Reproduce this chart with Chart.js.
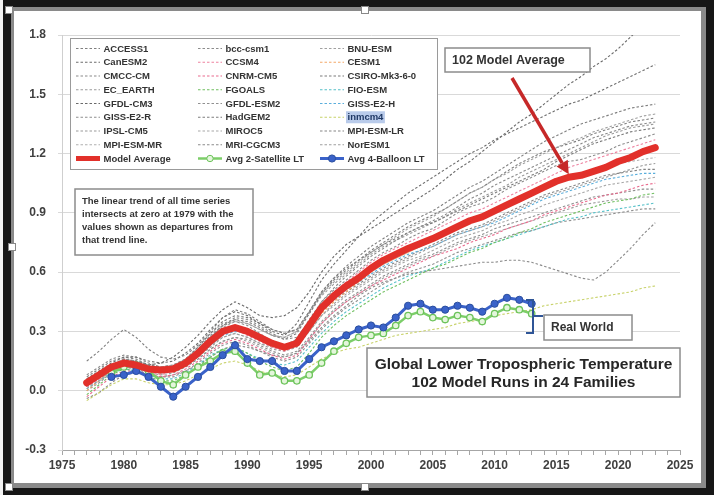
<!DOCTYPE html>
<html><head><meta charset="utf-8">
<script src="https://cdn.jsdelivr.net/npm/chart.js@4"></script>
<style>html,body{margin:0;padding:0;background:#fff;}#wrap{position:relative;width:714px;height:495px;}canvas{display:block;}</style>
</head><body><div id="wrap"><canvas id="c" width="714" height="495"></canvas></div>
<script>
// ---------- DATA ----------
const years = [1977,1978,1979,1980,1981,1982,1983,1984,1985,1986,1987,1988,1989,1990,1991,1992,1993,1994,1995,1996,1997,1998,1999,2000,2001,2002,2003,2004,2005,2006,2007,2008,2009,2010,2011,2012,2013,2014,2015,2016,2017,2018,2019,2020,2021,2022,2023];
const obsYears = [1979,1980,1981,1982,1983,1984,1985,1986,1987,1988,1989,1990,1991,1992,1993,1994,1995,1996,1997,1998,1999,2000,2001,2002,2003,2004,2005,2006,2007,2008,2009,2010,2011,2012,2013];
const xTicks = [1975,1980,1985,1990,1995,2000,2005,2010,2015,2020,2025];
const yTicks = [-0.3,0.0,0.3,0.6,0.9,1.2,1.5,1.8];

const modelNames = ["ACCESS1","bcc-csm1","BNU-ESM","CanESM2","CCSM4","CESM1","CMCC-CM","CNRM-CM5","CSIRO-Mk3-6-0","EC_EARTH","FGOALS","FIO-ESM","GFDL-CM3","GFDL-ESM2","GISS-E2-H","GISS-E2-R","HadGEM2","inmcm4","IPSL-CM5","MIROC5","MPI-ESM-LR","MPI-ESM-MR","MRI-CGCM3","NorESM1"];

const ACCESS1 = [0.15,0.20,0.26, 0.31,0.27,0.21,0.17,0.16,0.18,0.23,0.30,0.37,0.41, 0.39,0.35,0.31,0.29,0.31,0.40,0.50,0.57,0.63,0.68, 0.73,0.77,0.81,0.85,0.88,0.91,0.95,0.99,1.03,1.06, 1.10,1.14,1.18,1.22,1.26,1.29,1.32,1.35,1.37,1.39, 1.41,1.43,1.44,1.45];
const bcc_csm1 = [0.06,0.09,0.13, 0.16,0.15,0.12,0.10,0.11,0.15,0.21,0.28,0.33,0.35, 0.33,0.29,0.25,0.23,0.26,0.36,0.45,0.51,0.56,0.61, 0.66,0.70,0.73,0.77,0.80,0.82,0.86,0.90,0.93,0.95, 0.98,1.02,1.05,1.08,1.11,1.14,1.16,1.17,1.19,1.21, 1.24,1.26,1.28,1.30];
const BNU_ESM = [0.01,0.05,0.10, 0.13,0.13,0.12,0.12,0.13,0.16,0.21,0.27,0.32,0.35, 0.34,0.31,0.28,0.27,0.30,0.40,0.49,0.55,0.60,0.65, 0.70,0.74,0.78,0.82,0.85,0.88,0.92,0.96,1.00,1.03, 1.07,1.10,1.14,1.17,1.20,1.23,1.26,1.28,1.31,1.33, 1.35,1.37,1.39,1.40];
const CanESM2 = [0.06,0.10,0.14, 0.17,0.17,0.15,0.14,0.15,0.19,0.24,0.31,0.37,0.40, 0.38,0.34,0.30,0.28,0.34,0.45,0.56,0.64,0.71,0.78, 0.85,0.90,0.95,1.00,1.04,1.08,1.12,1.16,1.20,1.23, 1.27,1.30,1.33,1.36,1.39,1.42,1.45,1.47,1.50,1.53, 1.56,1.59,1.62,1.65];
const CCSM4 = [0.02,0.06,0.11, 0.14,0.12,0.09,0.08,0.10,0.14,0.20,0.26,0.30,0.31, 0.28,0.25,0.22,0.20,0.23,0.33,0.43,0.50,0.55,0.60, 0.65,0.69,0.72,0.75,0.78,0.81,0.84,0.87,0.90,0.92, 0.95,0.98,1.01,1.04,1.07,1.10,1.13,1.15,1.17,1.19, 1.21,1.23,1.25,1.27];
const CESM1 = [0.00,0.05,0.10, 0.13,0.12,0.10,0.09,0.10,0.13,0.18,0.24,0.29,0.31, 0.29,0.26,0.23,0.21,0.23,0.31,0.39,0.45,0.50,0.55, 0.60,0.64,0.67,0.70,0.73,0.76,0.79,0.82,0.85,0.87, 0.90,0.93,0.96,0.99,1.02,1.05,1.07,1.09,1.11,1.13, 1.15,1.17,1.20,1.22];
const CMCC_CM = [0.08,0.12,0.16, 0.18,0.17,0.14,0.12,0.12,0.15,0.20,0.27,0.33,0.37, 0.36,0.33,0.29,0.26,0.27,0.35,0.45,0.52,0.58,0.63, 0.68,0.72,0.76,0.80,0.83,0.86,0.89,0.93,0.97,1.00, 1.04,1.07,1.10,1.13,1.16,1.19,1.22,1.25,1.28,1.30, 1.32,1.34,1.35,1.36];
const CNRM_CM5 = [-0.03,0.02,0.07, 0.10,0.10,0.08,0.07,0.08,0.11,0.15,0.20,0.24,0.26, 0.24,0.21,0.18,0.16,0.18,0.26,0.34,0.40,0.45,0.49, 0.53,0.56,0.59,0.62,0.65,0.68,0.70,0.72,0.75,0.77, 0.79,0.82,0.84,0.86,0.89,0.91,0.93,0.95,0.97,0.99, 1.00,1.02,1.04,1.05];
const CSIRO_Mk3 = [0.04,0.08,0.12, 0.15,0.15,0.13,0.12,0.13,0.16,0.22,0.29,0.35,0.38, 0.37,0.34,0.31,0.29,0.31,0.40,0.50,0.57,0.62,0.66, 0.70,0.74,0.77,0.80,0.83,0.85,0.88,0.91,0.94,0.97, 1.00,1.03,1.06,1.09,1.12,1.16,1.19,1.22,1.25,1.27, 1.29,1.31,1.32,1.33];
const EC_EARTH = [0.03,0.06,0.10, 0.12,0.11,0.09,0.09,0.10,0.13,0.17,0.22,0.27,0.29, 0.27,0.24,0.21,0.20,0.22,0.30,0.38,0.44,0.49,0.53, 0.57,0.61,0.64,0.67,0.70,0.73,0.76,0.79,0.81,0.83, 0.86,0.89,0.92,0.95,0.98,1.00,1.02,1.04,1.06,1.08, 1.10,1.12,1.14,1.15];
const FGOALS = [-0.02,0.03,0.08, 0.11,0.10,0.07,0.05,0.05,0.08,0.12,0.17,0.21,0.22, 0.19,0.15,0.12,0.10,0.12,0.19,0.27,0.33,0.38,0.42, 0.46,0.50,0.53,0.56,0.59,0.62,0.64,0.67,0.70,0.72, 0.75,0.77,0.80,0.82,0.85,0.87,0.89,0.91,0.93,0.95, 0.96,0.97,0.99,1.00];
const FIO_ESM = [0.01,0.05,0.09, 0.11,0.10,0.08,0.06,0.06,0.09,0.13,0.18,0.21,0.22, 0.19,0.16,0.14,0.13,0.15,0.22,0.29,0.35,0.40,0.44, 0.48,0.52,0.55,0.58,0.60,0.62,0.65,0.68,0.71,0.73, 0.75,0.77,0.79,0.81,0.83,0.85,0.87,0.88,0.90,0.91, 0.92,0.93,0.94,0.95];
const GFDL_CM3 = [0.02,0.07,0.12, 0.16,0.15,0.13,0.14,0.17,0.22,0.28,0.35,0.41,0.45, 0.42,0.38,0.37,0.38,0.42,0.50,0.60,0.68,0.74,0.78, 0.82,0.86,0.90,0.94,0.98,1.02,1.07,1.12,1.16,1.21, 1.26,1.31,1.36,1.40,1.45,1.50,1.55,1.59,1.64,1.68, 1.73,1.79,1.85,1.91];
const GFDL_ESM2 = [0.05,0.08,0.11, 0.12,0.11,0.08,0.07,0.07,0.10,0.14,0.19,0.23,0.25, 0.23,0.20,0.17,0.15,0.17,0.24,0.31,0.37,0.42,0.46, 0.50,0.54,0.57,0.60,0.62,0.64,0.67,0.70,0.72,0.74, 0.76,0.78,0.80,0.81,0.83,0.85,0.86,0.87,0.88,0.89, 0.90,0.91,0.92,0.92];
const GISS_E2_H = [0.03,0.07,0.11, 0.13,0.12,0.10,0.09,0.10,0.13,0.17,0.23,0.28,0.30, 0.29,0.26,0.24,0.23,0.25,0.32,0.40,0.46,0.51,0.55, 0.59,0.63,0.66,0.69,0.71,0.73,0.76,0.79,0.81,0.83, 0.85,0.88,0.91,0.94,0.97,0.99,1.01,1.03,1.05,1.07, 1.08,1.09,1.10,1.10];
const GISS_E2_R = [0.00,0.04,0.09, 0.12,0.12,0.10,0.09,0.10,0.12,0.16,0.21,0.25,0.27, 0.26,0.23,0.20,0.18,0.20,0.27,0.35,0.41,0.46,0.50, 0.54,0.58,0.61,0.64,0.67,0.69,0.72,0.75,0.77,0.79, 0.82,0.84,0.86,0.88,0.90,0.92,0.94,0.96,0.98,0.99, 1.00,1.01,1.02,1.02];
const HadGEM2 = [0.07,0.11,0.15, 0.17,0.16,0.13,0.11,0.11,0.14,0.20,0.27,0.33,0.36, 0.35,0.32,0.28,0.26,0.29,0.39,0.49,0.56,0.61,0.66, 0.71,0.75,0.79,0.83,0.86,0.89,0.92,0.96,1.00,1.03, 1.07,1.11,1.15,1.18,1.21,1.23,1.25,1.27,1.30,1.32, 1.34,1.36,1.37,1.38];
const inmcm4 = [-0.05,-0.01,0.03, 0.06,0.06,0.04,0.03,0.03,0.05,0.08,0.11,0.14,0.15, 0.13,0.10,0.08,0.07,0.08,0.12,0.16,0.19,0.21,0.22, 0.24,0.26,0.28,0.29,0.30,0.31,0.32,0.34,0.35,0.36, 0.38,0.39,0.40,0.41,0.43,0.44,0.45,0.46,0.47,0.48, 0.49,0.50,0.52,0.53];
const IPSL_CM5 = [0.05,0.09,0.13, 0.16,0.15,0.13,0.12,0.12,0.16,0.22,0.29,0.34,0.36, 0.34,0.31,0.28,0.27,0.30,0.39,0.48,0.54,0.59,0.64, 0.69,0.73,0.76,0.79,0.82,0.85,0.88,0.92,0.95,0.98, 1.01,1.04,1.08,1.11,1.14,1.17,1.20,1.23,1.26,1.29, 1.31,1.33,1.34,1.35];
const MIROC5 = [0.02,0.05,0.09, 0.12,0.12,0.11,0.10,0.11,0.14,0.18,0.23,0.27,0.29, 0.27,0.24,0.22,0.21,0.23,0.30,0.38,0.43,0.48,0.52, 0.56,0.60,0.63,0.66,0.68,0.71,0.74,0.77,0.79,0.81, 0.84,0.86,0.89,0.91,0.94,0.96,0.98,1.00,1.02,1.04, 1.05,1.06,1.07,1.08];
const MPI_ESM_LR = [0.04,0.08,0.12, 0.14,0.13,0.11,0.11,0.12,0.15,0.20,0.26,0.30,0.31, 0.29,0.26,0.23,0.21,0.23,0.31,0.40,0.46,0.50,0.54, 0.58,0.62,0.65,0.68,0.71,0.74,0.77,0.80,0.82,0.84, 0.87,0.90,0.93,0.96,0.99,1.01,1.03,1.05,1.07,1.09, 1.10,1.11,1.12,1.12];
const MPI_ESM_MR = [0.05,0.09,0.13, 0.15,0.14,0.12,0.12,0.13,0.16,0.21,0.27,0.31,0.33, 0.31,0.28,0.25,0.23,0.25,0.33,0.41,0.47,0.52,0.56, 0.60,0.64,0.67,0.70,0.73,0.76,0.79,0.82,0.85,0.87, 0.90,0.93,0.96,0.99,1.02,1.05,1.07,1.09,1.11,1.13, 1.15,1.16,1.17,1.18];
const MRI_CGCM3 = [-0.04,-0.01,0.04, 0.08,0.09,0.08,0.07,0.08,0.10,0.13,0.17,0.21,0.23, 0.22,0.20,0.18,0.17,0.19,0.25,0.32,0.38,0.43,0.48, 0.52,0.55,0.57,0.59,0.60,0.61,0.62,0.63,0.64,0.65, 0.65,0.66,0.66,0.65,0.63,0.61,0.59,0.57,0.56,0.60, 0.66,0.72,0.79,0.85];
const NorESM1 = [0.02,0.06,0.10, 0.13,0.12,0.09,0.08,0.09,0.12,0.16,0.21,0.25,0.27, 0.25,0.22,0.19,0.17,0.19,0.26,0.34,0.40,0.45,0.49, 0.53,0.57,0.60,0.63,0.66,0.68,0.71,0.74,0.76,0.78, 0.80,0.82,0.84,0.86,0.88,0.90,0.92,0.94,0.95,0.96, 0.97,0.97,0.98,0.98];

const modelAverage = [0.04,0.08,0.12, 0.14,0.13,0.11,0.105,0.11,0.14,0.19,0.25,0.30,0.32, 0.30,0.27,0.24,0.22,0.24,0.33,0.42,0.48,0.53,0.57, 0.62,0.66,0.69,0.72,0.745,0.77,0.80,0.83,0.86,0.88, 0.91,0.94,0.97,1.00,1.03,1.06,1.08,1.09,1.11,1.13, 1.16,1.18,1.21,1.23];
const satellite2 = [0.09,0.12,0.13,0.10,0.05,0.03,0.08,0.12,0.15,0.19, 0.20,0.14,0.08,0.09,0.05,0.05,0.08,0.14,0.20,0.24, 0.27,0.28,0.29,0.33,0.38,0.40,0.37,0.36,0.38,0.37, 0.35,0.39,0.42,0.41,0.39];
const balloon4 = [0.07,0.08,0.10,0.07,0.02,-0.03,0.02,0.07,0.12,0.18, 0.23,0.16,0.15,0.15,0.10,0.10,0.16,0.22,0.25,0.28, 0.31,0.33,0.32,0.37,0.43,0.44,0.41,0.41,0.43,0.42, 0.40,0.44,0.47,0.46,0.44];

const modelSeries = [ACCESS1,bcc_csm1,BNU_ESM,CanESM2,CCSM4,CESM1,CMCC_CM,CNRM_CM5,CSIRO_Mk3,EC_EARTH,FGOALS,FIO_ESM,GFDL_CM3,GFDL_ESM2,GISS_E2_H,GISS_E2_R,HadGEM2,inmcm4,IPSL_CM5,MIROC5,MPI_ESM_LR,MPI_ESM_MR,MRI_CGCM3,NorESM1];

// ---------- STYLE ----------
const modelColors = ['#7f7f7f','#8c8c8c','#a0a0a0','#6e6e6e','#ee82a0','#f4a96a','#8a8a8a','#e96a8d','#7a7a7a','#9a9a9a','#6fbf5f','#55c0c8','#6a6a6a','#909090','#5aaedc','#8f8f8f','#7d7d7d','#c8d26a','#999999','#a8a8a8','#858585','#b0b0b0','#8a8a8a','#9e9e9e'];
const FONT = '"Liberation Sans", Arial, sans-serif';
const TXT = '#333333';

const toXY = (xs, ys) => xs.map((x, i) => ({x: x, y: ys[i]}));

const datasets = modelSeries.map((s, i) => ({
  label: modelNames[i], data: toXY(years, s),
  borderColor: modelColors[i], borderWidth: 1.1, borderDash: [2.5, 2],
  pointRadius: 0, tension: 0, order: 3
}));
datasets.push({label: 'Model Average', data: toXY(years, modelAverage), borderColor: '#e2302a', borderWidth: 7, pointRadius: 0, borderCapStyle: 'round', borderJoinStyle: 'round', order: 0});
datasets.push({label: 'Avg 2-Satellite LT', data: toXY(obsYears, satellite2), borderColor: '#7cce69', borderWidth: 2.5, pointRadius: 3.2, pointBackgroundColor: '#e4f6dc', pointBorderColor: '#6cc35a', pointBorderWidth: 1.3, order: 2});
datasets.push({label: 'Avg 4-Balloon LT', data: toXY(obsYears, balloon4), borderColor: '#3a62c9', borderWidth: 3, pointRadius: 3.6, pointBackgroundColor: '#3a62c9', pointBorderColor: '#2a4e9e', pointBorderWidth: 1, order: 1});

function textBox(ctx, x, y, w, h) {
  ctx.fillStyle = '#fff'; ctx.fillRect(x, y, w, h);
  ctx.strokeStyle = '#8c8c8c'; ctx.lineWidth = 1.5; ctx.strokeRect(x, y, w, h);
}

const decor = {
  id: 'decor',
  beforeDraw(chart) {
    const ctx = chart.ctx; ctx.save(); ctx.fillStyle = '#fff'; ctx.fillRect(0, 0, chart.width, chart.height); ctx.restore();
  },
  afterDatasetsDraw(chart) {
    const ctx = chart.ctx; const xs = chart.scales.x, ys = chart.scales.y;
    ctx.save();
    // legend
    const lx = 70, ly = 38, lw = 367, lh = 131;
    ctx.fillStyle = '#fff'; ctx.fillRect(lx, ly, lw, lh);
    ctx.strokeStyle = '#9a9a9a'; ctx.lineWidth = 1; ctx.strokeRect(lx + 0.5, ly + 0.5, lw, lh);
    const colX = [76, 198, 320];
    ctx.font = 'bold 9.5px ' + FONT; ctx.textBaseline = 'middle';
    chart.data.datasets.forEach((ds, i) => {
      const x = colX[i % 3], y = 48.5 + Math.floor(i / 3) * 13.75;
      ctx.save();
      ctx.strokeStyle = ds.borderColor; ctx.lineWidth = Math.min(ds.borderWidth, 5);
      ctx.setLineDash(ds.borderDash || []);
      ctx.beginPath(); ctx.moveTo(x, y); ctx.lineTo(x + 24, y); ctx.stroke();
      ctx.setLineDash([]);
      if (ds.pointRadius > 0) {
        ctx.beginPath(); ctx.arc(x + 12, y, ds.pointRadius, 0, Math.PI * 2);
        ctx.fillStyle = ds.pointBackgroundColor; ctx.fill();
        ctx.strokeStyle = ds.pointBorderColor; ctx.lineWidth = 1; ctx.stroke();
      }
      if (ds.label === 'inmcm4') {
        const tw = ctx.measureText(ds.label).width;
        ctx.fillStyle = '#b9cbea'; ctx.fillRect(x + 26, y - 6, tw + 3, 12);
        ctx.fillStyle = '#1f3864';
      } else ctx.fillStyle = TXT;
      ctx.fillText(ds.label, x + 27.5, y + 0.5);
      ctx.restore();
    });

    // note box
    textBox(ctx, 75, 189, 178, 66);
    ctx.fillStyle = TXT; ctx.font = 'bold 9.5px ' + FONT; ctx.textAlign = 'left'; ctx.textBaseline = 'middle';
    ['The linear trend of all time series', 'intersects at zero at 1979 with the', 'values shown as departures from', 'that trend line.'].forEach((t, k) => ctx.fillText(t, 82, 201 + k * 13));

    // 102 Model Average label + arrow
    textBox(ctx, 445, 48, 145, 24);
    ctx.fillStyle = TXT; ctx.font = 'bold 12.5px ' + FONT; ctx.fillText('102 Model Average', 452, 60.5);
    const tipX = xs.getPixelForValue(2016), tipY = ys.getPixelForValue(modelAverage[years.indexOf(2016)]) - 3;
    const sx = 512, sy = 78;
    const ang = Math.atan2(tipY - sy, tipX - sx);
    const hl = 13, hw = 6.5;
    const bx = tipX - hl * Math.cos(ang), by = tipY - hl * Math.sin(ang);
    ctx.strokeStyle = '#c62828'; ctx.lineWidth = 3.5; ctx.lineCap = 'butt';
    ctx.beginPath(); ctx.moveTo(sx, sy); ctx.lineTo(bx, by); ctx.stroke();
    ctx.fillStyle = '#c62828'; ctx.beginPath();
    ctx.moveTo(tipX, tipY);
    ctx.lineTo(bx + hw * Math.sin(ang), by - hw * Math.cos(ang));
    ctx.lineTo(bx - hw * Math.sin(ang), by + hw * Math.cos(ang));
    ctx.closePath(); ctx.fill();

    // Real World bracket + label
    ctx.strokeStyle = '#2f5597'; ctx.lineWidth = 2; ctx.lineCap = 'butt';
    ctx.beginPath();
    ctx.moveTo(526, 300); ctx.lineTo(533, 300); ctx.lineTo(533, 333); ctx.lineTo(526, 333);
    ctx.moveTo(533, 316); ctx.lineTo(543, 316);
    ctx.stroke();
    textBox(ctx, 544, 315, 88, 25);
    ctx.fillStyle = TXT; ctx.font = 'bold 12px ' + FONT; ctx.fillText('Real World', 551, 328);

    // Title box
    textBox(ctx, 367, 348, 313, 49);
    ctx.fillStyle = '#262626'; ctx.font = 'bold 15.5px ' + FONT; ctx.textAlign = 'center';
    ctx.fillText('Global Lower Tropospheric Temperature', 523.5, 365);
    ctx.fillText('102 Model Runs in 24 Families', 523.5, 383);
    ctx.restore();
  },
  afterDraw(chart) {
    const ctx = chart.ctx; ctx.save();
    ctx.fillStyle = '#8a8a8a';
    ctx.fillRect(10, 7, 696, 4);
    ctx.fillRect(10, 7, 4, 481);
    ctx.fillRect(701, 7, 5, 481);
    ctx.fillRect(10, 483, 696, 5);
    ctx.fillStyle = '#161616';
    ctx.fillRect(0, 0, 714, 7);
    ctx.fillRect(3, 0, 8, 495);
    ctx.fillRect(706, 0, 8, 495);
    ctx.fillRect(0, 488, 714, 7);
    ctx.fillStyle = '#f2f2f2'; ctx.fillRect(0, 0, 3, 495);
    ctx.fillStyle = '#fff'; ctx.strokeStyle = '#888'; ctx.lineWidth = 1;
    [[9, 10], [365, 10], [12, 247], [9, 487], [365, 487]].forEach(p => {
      ctx.fillRect(p[0] - 3, p[1] - 3, 6, 6); ctx.strokeRect(p[0] - 3.5, p[1] - 3.5, 7, 7);
    });
    ctx.restore();
  }
};

new Chart(document.getElementById('c'), {
  type: 'line',
  data: {datasets: datasets},
  plugins: [decor],
  options: {
    responsive: false, animation: false, devicePixelRatio: 1,
    layout: {padding: {left: 0, right: 34, top: 35, bottom: 0}},
    plugins: {legend: {display: false}, tooltip: {enabled: false}},
    elements: {line: {tension: 0}},
    scales: {
      x: {
        type: 'linear', min: xTicks[0], max: xTicks[xTicks.length - 1],
        afterFit(s) { s.height = 45; },
        border: {display: true, color: '#a6a6a6', width: 1},
        grid: {display: true, drawOnChartArea: false, drawTicks: true, tickLength: 5, color: '#a6a6a6'},
        ticks: {stepSize: 1, autoSkip: false, maxTicksLimit: 100, maxRotation: 0, padding: 3, color: '#404040',
          font: {family: FONT, size: 12, weight: 'bold'},
          callback: v => xTicks.includes(v) ? String(v) : ''}
      },
      y: {
        min: yTicks[0], max: yTicks[yTicks.length - 1],
        afterFit(s) { s.width = 62; },
        border: {display: true, color: '#cfcfcf', width: 1},
        grid: {color: '#d9d9d9', lineWidth: 1, tickLength: 4},
        ticks: {stepSize: 0.3, padding: 12, color: '#404040', font: {family: FONT, size: 12, weight: 'bold'},
          callback: v => (Math.abs(v) < 1e-9 ? 0 : v).toFixed(1)}
      }
    }
  }
});
</script>
</body></html>
